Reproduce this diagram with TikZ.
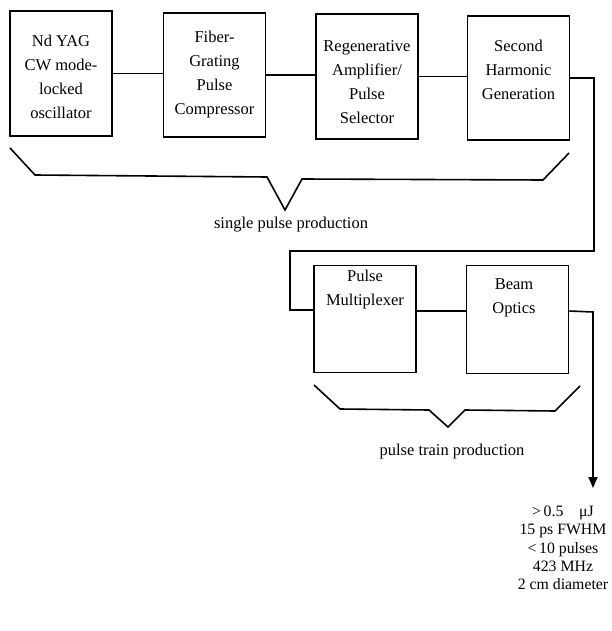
\documentclass[tikz,border=0pt]{standalone}
\usepackage{fontspec}
\setmainfont{Liberation Serif}
\usetikzlibrary{arrows.meta,calc}
\begin{document}
\begin{tikzpicture}[x=1pt,y=-1pt,
  box/.style={draw,line width=1.6pt,inner sep=0pt,minimum width=102pt},
  lbl/.style={font=\fontsize{16.5}{24}\selectfont,align=center,inner sep=0pt},
  wire/.style={line width=1.6pt},
  brace/.style={line width=1.6pt,line join=miter}]
\useasboundingbox (0,0) rectangle (611,631);
% top row boxes
\node[box,minimum height=125pt] (b1) at (61,73.5) {};
\node[box,minimum height=124pt] (b2) at (214.5,75) {};
\node[box,minimum height=125pt] (b3) at (367,76.5) {};
\node[box,minimum height=124pt] (b4) at (518.5,78) {};
\node[lbl] (t1) at (61,77) {Nd YAG\\CW mode-\\locked\\oscillator};
\node[lbl] (t2) at (214.5,75) {Fiber-\\Grating\\Pulse\\Compressor};
\node[lbl] (t3) at (367,82) {Regenerative\\Amplifier/\\Pulse\\Selector};
\node[lbl] (t4) at (518.5,70) {Second\\Harmonic\\Generation};
\draw[wire] (b1.east) -- (b1.east -| b2.west);
\draw[wire] (b2.east) -- (b2.east -| b3.west);
\draw[wire] (b3.east) -- (b3.east -| b4.west);
% second row boxes
\node[box,minimum height=107pt] (b5) at (365,319) {};
\node[box,minimum height=108pt] (b6) at (517.5,319.5) {};
\node[lbl] (t5) at (365,290) {Pulse\\Multiplexer};
\node[lbl] (t6) at (514,298) {Beam\\Optics};
% routing
\coordinate (c1) at (594,78);
\coordinate (c2) at (594,251);
\coordinate (c3) at (290,251);
\coordinate (c4) at (290,310);
\draw[wire,line join=miter] (b4.east) -- (c1) -- (c2) -- (c3) -- (c4) -- (c4 -| b5.west);
\coordinate (m) at ($(b5.east)+(0,-8)$);
\draw[wire] (m) -- (m -| b6.west);
\coordinate (c5) at (593,312);
\coordinate (out) at (593,488);
\draw[wire,line join=miter,-{Triangle[length=11pt,width=9pt]}] (m -| b6.east) -- (c5) -- (out);
% braces
\draw[brace] (10,148) -- (35,175) -- (267,177) -- (285,210) -- (302,179) -- (543,180) -- (569,153);
\node[lbl] (s1) at (291,225) {single pulse production};
\draw[brace] (314,385) -- (340,409) -- (429,410) -- (448,427) -- (465,410) -- (555,411) -- (580,386);
\node[lbl] (s2) at (452,452) {pulse train production};
% output specs
\node[lbl,font=\fontsize{15.8}{18.2}\selectfont] (spec) at (563,548) {>\,0.5\quad μJ\\15 ps FWHM\\<\,10 pulses\\423 MHz\\2 cm diameter};
\end{tikzpicture}
\end{document}
